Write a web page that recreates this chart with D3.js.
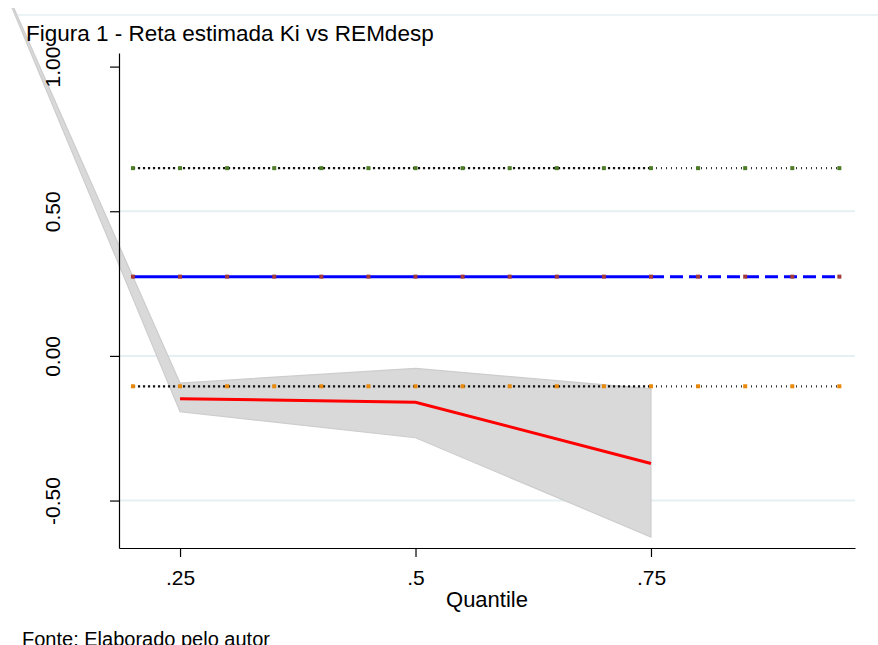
<!DOCTYPE html>
<html>
<head>
<meta charset="utf-8">
<script src="https://cdn.jsdelivr.net/npm/d3@7"></script>
<style>
  body { margin: 0; background: #fff; }
  text { font-family: Arial, "Liberation Sans", sans-serif; fill: #000; }
</style>
</head>
<body>
<div id="chart"></div>
<script>
// quantile regression results
const quantiles = [0.25, 0.5, 0.75];
const qrCoef = [-0.148, -0.160, -0.372];

// confidence band, first vertex lies off the plot (top left)
const bandQ = [0.069, 0.25, 0.5, 0.75];
const bandLo = [1.224, -0.193, -0.283, -0.626];
const bandHi = [1.236, -0.094, -0.043, -0.114];

// OLS estimate and its CI, marked every .05
const olsQ = [0.2, 0.25, 0.3, 0.35, 0.4, 0.45, 0.5, 0.55, 0.6, 0.65, 0.7, 0.75, 0.8, 0.85, 0.9, 0.95];
const olsCoef = [0.274];
const olsLo = [-0.105];
const olsHi = [0.649];

const yTicks = [-0.5, 0, 0.5, 1];
const xTicks = [0.25, 0.5, 0.75];
const xTickLabels = [".25", ".5", ".75"];

const W = 878, H = 645;

const svg = d3.select("#chart").append("svg")
  .attr("width", W)
  .attr("height", H);

const x = d3.scaleLinear().domain([0.1852, 0.9666]).range([119, 855]);
const y = d3.scaleLinear().domain([-0.664, 1.047]).range([548, 53]);

// faint line at top of graph region
svg.append("line")
  .attr("x1", 18).attr("x2", W)
  .attr("y1", 15).attr("y2", 15)
  .attr("stroke", "#e6eff1").attr("stroke-width", 1.5);

// gridlines (not the top one)
svg.append("g").selectAll("line")
  .data(yTicks.filter(d => d < 1))
  .join("line")
    .attr("x1", x.range()[0]).attr("x2", x.range()[1])
    .attr("y1", d => y(d)).attr("y2", d => y(d))
    .attr("stroke", "#e6eff1")
    .attr("stroke-width", 2);

svg.append("clipPath").attr("id", "clip")
  .append("rect").attr("x", 0).attr("y", 8).attr("width", W).attr("height", H);

// CI band
const band = bandQ.map((q, i) => ({ q: q, lo: bandLo[i], hi: bandHi[i] }));
svg.append("path")
  .datum(band)
  .attr("clip-path", "url(#clip)")
  .attr("d", d3.area().x(d => x(d.q)).y0(d => y(d.lo)).y1(d => y(d.hi)))
  .attr("fill", "#d9d9d9")
  .attr("stroke", "#cdcdcd")
  .attr("stroke-width", 1.2);

const olsLeft = olsQ.filter(q => q <= 0.75);
const olsRight = olsQ.filter(q => q >= 0.75);

// dotted OLS CI lines
[olsLo[0], olsHi[0]].forEach(v => {
  svg.append("path")
    .datum(olsLeft)
    .attr("d", d3.line().x(q => x(q)).y(() => y(v)))
    .attr("stroke", "#111").attr("stroke-width", 2.2)
    .attr("stroke-dasharray", "2.2,2.8").attr("fill", "none");
  svg.append("path")
    .datum(olsRight)
    .attr("d", d3.line().x(q => x(q)).y(() => y(v)))
    .attr("stroke", "#333").attr("stroke-width", 2.2)
    .attr("stroke-dasharray", "1,4").attr("fill", "none");
});

// OLS coefficient line
svg.append("path")
  .datum(olsLeft)
  .attr("d", d3.line().x(q => x(q)).y(() => y(olsCoef[0])))
  .attr("stroke", "#0000ff").attr("stroke-width", 3).attr("fill", "none");
svg.append("path")
  .datum(olsRight)
  .attr("d", d3.line().x(q => x(q)).y(() => y(olsCoef[0])))
  .attr("stroke", "#0000ff").attr("stroke-width", 3)
  .attr("stroke-dasharray", "13,6").attr("fill", "none");

// QR coefficient line
svg.append("path")
  .datum(quantiles)
  .attr("d", d3.line().x(q => x(q)).y((q, i) => y(qrCoef[i])))
  .attr("stroke", "#ff0000").attr("stroke-width", 3).attr("fill", "none");

// markers on OLS lines
const markerSets = [
  { v: olsCoef[0], c: "#a33a3a" },
  { v: olsHi[0], c: "#4f7d28" },
  { v: olsLo[0], c: "#e8890c" }
];
markerSets.forEach(m => {
  svg.append("g").selectAll("rect")
    .data(olsQ)
    .join("rect")
      .attr("x", q => x(q) - 2)
      .attr("y", y(m.v) - 2)
      .attr("width", 4).attr("height", 4)
      .attr("fill", m.c);
});

// y axis
const yAxis = svg.append("g")
  .attr("transform", `translate(${x.range()[0]},0)`)
  .call(d3.axisLeft(y).tickValues(yTicks).tickSize(9).tickSizeOuter(0).tickFormat(d3.format(".2f")));
yAxis.select(".domain").attr("stroke", "#000").attr("stroke-width", 1.2);
yAxis.selectAll(".tick line").attr("stroke", "#000").attr("stroke-width", 1.2);
yAxis.selectAll(".tick text")
  .attr("transform", "rotate(-90)")
  .attr("x", 0).attr("y", -59).attr("dy", 0)
  .attr("text-anchor", "middle")
  .style("font-size", "21px")
  .text(d => d3.format(".2f")(d).replace("−", "-"));

// x axis
const xAxis = svg.append("g")
  .attr("transform", `translate(0,${y.range()[0]})`)
  .call(d3.axisBottom(x).tickValues(xTicks).tickSize(9).tickSizeOuter(0)
    .tickFormat((d, i) => xTickLabels[i]));
xAxis.select(".domain").attr("stroke", "#000").attr("stroke-width", 1.2);
xAxis.selectAll(".tick text")
  .attr("y", 37).attr("dy", 0)
  .style("font-size", "21px");
xAxis.selectAll(".tick line").attr("stroke", "#000").attr("stroke-width", 1.2);

svg.append("text")
  .attr("x", (x.range()[0] + x.range()[1]) / 2)
  .attr("y", 607)
  .attr("text-anchor", "middle")
  .style("font-size", "22px")
  .text("Quantile");

svg.append("text")
  .attr("x", 26).attr("y", 41)
  .style("font-size", "22.5px")
  .text("Figura 1 - Reta estimada Ki vs REMdesp");

svg.append("text")
  .attr("x", 22).attr("y", 646)
  .style("font-size", "20px")
  .text("Fonte: Elaborado pelo autor");
</script>
</body>
</html>
